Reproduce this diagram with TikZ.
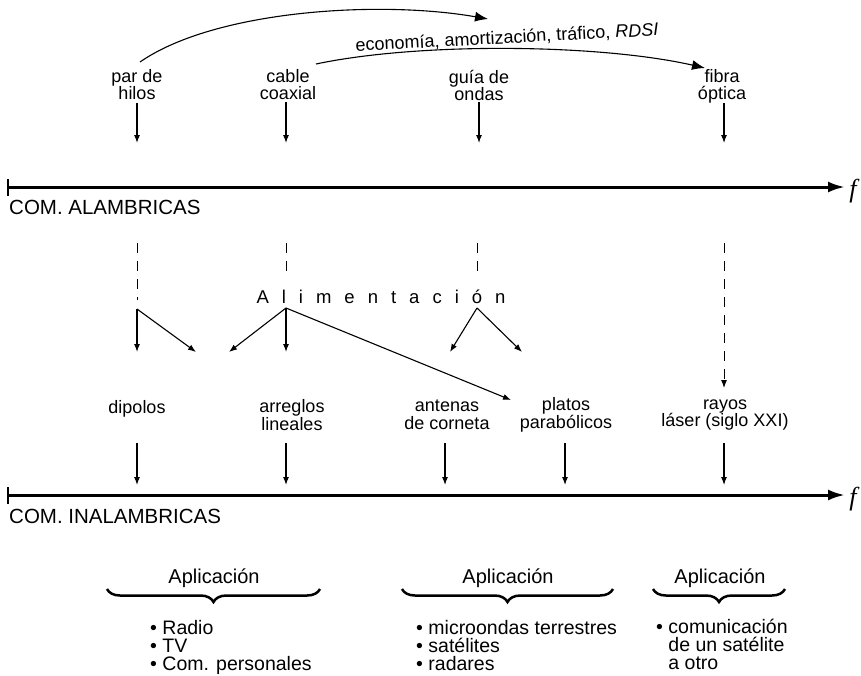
\documentclass[tikz,border=0pt]{standalone}
\usepackage{fontspec}
\setmainfont{Liberation Sans}
\newfontfamily\fserif{Liberation Serif}
\usetikzlibrary{arrows.meta,decorations.pathreplacing}
\newcommand\lsp{\hspace{13pt}}
\begin{document}
\begin{tikzpicture}[x=1pt,y=-1pt,
  lbl/.style={align=center, inner sep=0pt, font=\fontsize{18}{17}\selectfont},
  blbl/.style={align=center, inner sep=0pt, font=\fontsize{18}{17.5}\selectfont},
  aplbl/.style={inner sep=0pt, font=\fontsize{20}{20}\selectfont},
  lst/.style={align=left, inner sep=0pt, anchor=west, font=\fontsize{19.5}{18}\selectfont},
  comlbl/.style={inner sep=0pt, anchor=west, font=\fontsize{20.5}{21}\selectfont},
  arr/.style={-{Latex[length=8pt,width=6pt]}, line width=1.1pt},
  axisline/.style={line width=3pt, -{Latex[length=17pt,width=11pt]}},
  dsh/.style={dash pattern=on 10pt off 8pt, line width=1pt},
  dsharr/.style={dash pattern=on 10pt off 8pt, line width=1pt, -{Latex[length=8pt,width=6pt]}},
  brc/.style={decorate, decoration={brace, mirror, amplitude=13pt}, line width=2.5pt},
  fsym/.style={inner sep=0pt, font=\fserif\itshape\fontsize{26}{26}\selectfont}
]
\useasboundingbox (0,0) rectangle (861,675);

% ---------- top labels ----------
\node[lbl] (par)   at (137,85) {par de\\hilos};
\node[lbl] (cab)   at (288,85) {cable\\coaxial};
\node[lbl] (guia)  at (479,85) {gu\'{\i}a de\\ondas};
\node[lbl] (fib)   at (722,86) {fibra\\\'optica};

\coordinate (a1e) at (137,143);
\coordinate (a2e) at (286,143);
\coordinate (a3e) at (479,143);
\coordinate (a4e) at (724,143);
\draw[arr] (par.south |- 0,103) -- (a1e);
\draw[arr] (cab.south -| 286,0) ++(0,2) -- (a2e);
\draw[arr] (guia.south) ++(0,2) -- (a3e);
\draw[arr] (fib.south -| 724,0) -- (a4e);

% ---------- curved arrows ----------
\coordinate (c1s) at (140,62);
\coordinate (c1e) at (488,19);
\coordinate (c2s) at (316,64);
\coordinate (c2e) at (705,68);
\draw[line width=1.1pt, -{Latex[length=13pt,width=10pt]}] (c1s) .. controls (215,10) and (380,0) .. (c1e);
\draw[line width=1.1pt, -{Latex[length=13pt,width=10pt]}] (c2s) .. controls (420,42) and (600,44) .. (c2e);
\node[inner sep=0pt, rotate=3, font=\fontsize{18}{18}\selectfont] (eco) at (507,38)
  {econom\'{\i}a, amortizaci\'on, tr\'afico, \textit{RDSI}};

% ---------- top axis ----------
\coordinate (ax1s) at (8,187);
\coordinate (ax1e) at (845,187);
\draw[axisline] (ax1s) -- (ax1e);
\draw[line width=2.5pt] (ax1s) ++(0,-8) -- ++(0,17);
\node[fsym] (f1) at (853,191) {f};
\node[comlbl] (alam) at (9,207) {COM. ALAMBRICAS};

% ---------- dashed lines ----------
\coordinate (d1s) at (137,243); \coordinate (d1e) at (137,300);
\coordinate (d2s) at (286,243); \coordinate (d2e) at (286,278);
\coordinate (d3s) at (477,243); \coordinate (d3e) at (477,278);
\coordinate (d4s) at (724,243); \coordinate (d4e) at (724,388);
\draw[dsh] (d1s) -- (d1e);
\draw[dsh] (d2s) -- (d2e);
\draw[dsh] (d3s) -- (d3e);
\draw[dsharr] (d4s) -- (d4e);

\node[inner sep=0pt, font=\fontsize{18.5}{18}\selectfont] (alim) at (381,297)
  {A\lsp l\lsp i\lsp m\lsp e\lsp n\lsp t\lsp a\lsp c\lsp i\lsp \'o\lsp n};

% ---------- branches ----------
\coordinate (b1) at (137,309);
\coordinate (b2) at (286,308);
\coordinate (b3) at (477,308);
\coordinate (e11) at (137,352);
\coordinate (e12) at (196,352);
\coordinate (e21) at (229,352);
\coordinate (e22) at (286,352);
\coordinate (e23) at (511,400);
\coordinate (e31) at (450,352);
\coordinate (e32) at (522,352);
\draw[arr] (b1) -- (e11);
\draw[arr] (b1) -- (e12);
\draw[arr] (b2) -- (e21);
\draw[arr] (b2) -- (e22);
\draw[arr] (b2) -- (e23);
\draw[arr] (b3) -- (e31);
\draw[arr] (b3) -- (e32);

% ---------- middle labels ----------
\node[blbl, anchor=base] (dip) at (137,413) {dipolos};
\node[blbl] (arr)  at (292,415) {arreglos\\lineales};
\node[blbl] (ant)  at (447,415) {antenas\\de corneta};
\node[blbl] (pla)  at (566,415) {platos\\parab\'olicos};
\node[blbl] (ray)  at (725,415) {rayos\\l\'aser (siglo XXI)};

\coordinate (g1s) at (137,443); \coordinate (g1e) at (137,485);
\coordinate (g2s) at (286,443); \coordinate (g2e) at (286,485);
\coordinate (g3s) at (445,443); \coordinate (g3e) at (445,485);
\coordinate (g4s) at (565,443); \coordinate (g4e) at (565,485);
\coordinate (g5s) at (724,443); \coordinate (g5e) at (724,485);
\draw[arr] (g1s) -- (g1e);
\draw[arr] (g2s) -- (g2e);
\draw[arr] (g3s) -- (g3e);
\draw[arr] (g4s) -- (g4e);
\draw[arr] (g5s) -- (g5e);

% ---------- bottom axis ----------
\coordinate (ax2s) at (8,495);
\coordinate (ax2e) at (845,495);
\draw[axisline] (ax2s) -- (ax2e);
\draw[line width=2.5pt] (ax2s) ++(0,-8) -- ++(0,17);
\node[fsym] (f2) at (853,499) {f};
\node[comlbl] (inal) at (9,516) {COM. INALAMBRICAS};

% ---------- applications ----------
\node[aplbl] (ap1) at (214,578) {Aplicaci\'on};
\node[aplbl] (ap2) at (508,578) {Aplicaci\'on};
\node[aplbl] (ap3) at (720,578) {Aplicaci\'on};

\coordinate (br1s) at (107,589); \coordinate (br1e) at (320,589);
\coordinate (br2s) at (402,589); \coordinate (br2e) at (613,589);
\coordinate (br3s) at (653,589); \coordinate (br3e) at (785,589);
\draw[brc] (br1s) -- (br1e);
\draw[brc] (br2s) -- (br2e);
\draw[brc] (br3s) -- (br3e);

\node[lst] (l1) at (150,647) {\textbullet\ Radio\\\textbullet\ TV\\\textbullet\ Com. personales};
\node[lst] (l2) at (416,646) {\textbullet\ microondas terrestres\\\textbullet\ sat\'elites\\\textbullet\ radares};
\node[lst] (l3) at (656,644) {\textbullet\ comunicaci\'on\\\hphantom{\textbullet\ }de un sat\'elite\\\hphantom{\textbullet\ }a otro};
\end{tikzpicture}
\end{document}
